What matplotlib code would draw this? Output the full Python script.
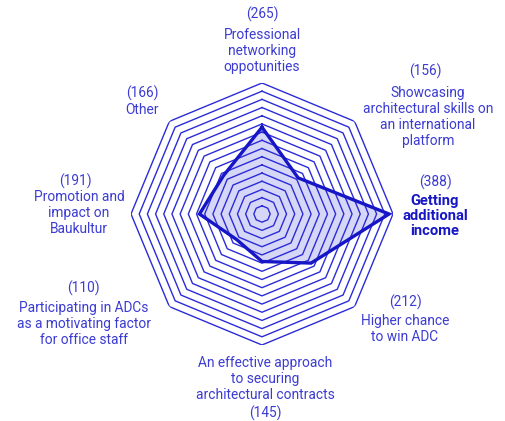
import numpy as np
import matplotlib
matplotlib.use("Agg")
import matplotlib.pyplot as plt

categories = [
    "Professional\nnetworking\noppotunities",
    "Showcasing\narchitectural skills on\nan international\nplatform",
    "Getting\nadditional\nincome",
    "Higher chance\nto win ADC",
    "An effective approach\nto securing\narchitectural contracts",
    "Participating in ADCs\nas a motivating factor\nfor office staff",
    "Promotion and\nimpact on\nBaukultur",
    "Other",
]
values = [265, 156, 388, 212, 145, 110, 191, 166]
ring_step = 25
ring_max = 400

TEXT = "#3c3cd4"
GRID = "#2b2bd8"
LINE = "#1616c6"
FILL = "#d6d6f6"

plt.rcParams['font.family'] = ['Roboto', 'DejaVu Sans']

W, H = 505, 421
fig = plt.figure(figsize=(W / 100, H / 100), dpi=100)
cx, cy, R = 262, 214, 131
ax = fig.add_axes([(cx - R) / W, (H - cy - R) / H, 2 * R / W, 2 * R / H], polar=True)
ax.set_theta_offset(np.pi / 2)
ax.set_theta_direction(-1)
ax.set_ylim(0, ring_max)
ax.grid(False)
ax.set_xticks([])
ax.set_yticks([])
ax.spines['polar'].set_visible(False)
ax.patch.set_visible(False)

n = len(values)
theta = np.linspace(0, 2 * np.pi, n, endpoint=False)
tc = np.append(theta, theta[0])

# data fill (below grid)
vc = np.append(values, values[0])
ax.fill(tc, vc, color=FILL, zorder=1, lw=0)

# octagonal rings
for r in np.arange(ring_step, ring_max + 1, ring_step):
    ax.plot(tc, np.full_like(tc, r, dtype=float), color=GRID, lw=1.0, zorder=2)

# data outline
ax.plot(tc, vc, color=LINE, lw=2.4, zorder=3, solid_joinstyle='miter')

# labels: (number x, number y, name x, name y) in pixels from top-left
label_pos = [
    (262, 14, 262, 51),
    (425, 71, 428, 117),
    (435, 182, 435, 216),
    (405, 302, 405, 329),
    (265, 413, 265, 379),
    (83, 288, 84, 324),
    (75, 181, 79, 213),
    (142, 93, 142, 110),
]
fs = 9.9
for i, (cat, val) in enumerate(zip(categories, values)):
    nx, ny, tx, ty = label_pos[i]
    bold = (i == 2)
    fig.text(nx / W, 1 - ny / H, f"({val})", color=TEXT, fontsize=fs,
             ha='center', va='center')
    fig.text(tx / W, 1 - ty / H, cat, color=(LINE if bold else TEXT),
             fontsize=(10.6 if bold else fs),
             ha='center', va='center', multialignment='center',
             linespacing=(1.13 if bold else 1.2),
             fontweight=('bold' if bold else 'normal'))

fig.savefig("out.png", dpi=100)
